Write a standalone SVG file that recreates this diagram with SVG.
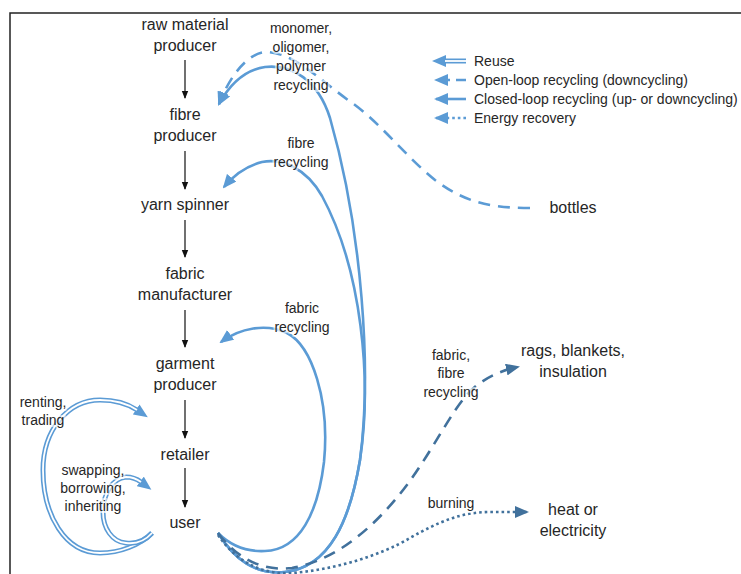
<svg xmlns="http://www.w3.org/2000/svg" width="741" height="574" viewBox="0 0 741 574">
<defs>
<style>
.t{font-family:"Liberation Sans",Arial,sans-serif;font-size:16px;fill:#262626;text-anchor:middle}
.s{font-family:"Liberation Sans",Arial,sans-serif;font-size:14px;fill:#262626;text-anchor:middle}
.h{paint-order:stroke;stroke:#fff;stroke-width:4;stroke-opacity:0.6}
.lg{font-family:"Liberation Sans",Arial,sans-serif;font-size:14px;fill:#262626}
.blk{stroke:#111;stroke-width:1.2;fill:none}
.cl{stroke:#5b9bd5;stroke-width:2.6;fill:none}
.ol{stroke:#5b9bd5;stroke-width:2.6;fill:none;stroke-dasharray:12 8}
.old{stroke:#41719c;stroke-width:2.6;fill:none;stroke-dasharray:12 8}
.en{stroke:#41719c;stroke-width:2.6;fill:none;stroke-dasharray:2.6 3}
.ru{stroke:#5b9bd5;stroke-width:5;fill:none}
.rw{stroke:#fff;stroke-width:1.8;fill:none}
</style>
<marker id="ab" markerUnits="userSpaceOnUse" markerWidth="8" markerHeight="8" viewBox="0 0 8 8" refX="7" refY="4" orient="auto"><path d="M0,0.8 L8,4 L0,7.2 z" fill="#111"/></marker>
<marker id="al" markerUnits="userSpaceOnUse" markerWidth="14" markerHeight="12" viewBox="0 0 14 12" refX="12" refY="6" orient="auto"><path d="M0,0 L14,6 L0,12 z" fill="#5b9bd5"/></marker>
<marker id="ad" markerUnits="userSpaceOnUse" markerWidth="14" markerHeight="12" viewBox="0 0 14 12" refX="12" refY="6" orient="auto"><path d="M0,0 L14,6 L0,12 z" fill="#41719c"/></marker>
<marker id="ar" markerUnits="userSpaceOnUse" markerWidth="14" markerHeight="12" viewBox="0 0 14 12" refX="1" refY="6" orient="auto"><path d="M0,0 L14,6 L0,12 z" fill="#5b9bd5"/></marker>
</defs>
<rect width="741" height="574" fill="#fff"/>
<path d="M10,574 L10,13 L741,13" stroke="#222" stroke-width="1.5" fill="none"/>

<g id="connectors">
<line class="blk" x1="185" y1="60" x2="185" y2="98" marker-end="url(#ab)"/>
<line class="blk" x1="185" y1="151" x2="185" y2="189" marker-end="url(#ab)"/>
<line class="blk" x1="185" y1="220" x2="185" y2="257" marker-end="url(#ab)"/>
<line class="blk" x1="185" y1="310" x2="185" y2="347" marker-end="url(#ab)"/>
<line class="blk" x1="185" y1="400" x2="185" y2="438" marker-end="url(#ab)"/>
<line class="blk" x1="185" y1="468" x2="185" y2="507" marker-end="url(#ab)"/>

<path class="ol" d="M530,208 C485,208 462,200 435,180 C405,156 378,120 348,100 C318,78 292,52 266,52 C246,53 228,80 219,104" marker-end="url(#al)"/>
<path class="cl" d="M218,533 C235,560 255,575 285,572 C330,567 350,520 360,460 C372,370 362,230 330,118 C318,80 292,64 265,67 C245,70 230,84 219,104" marker-end="url(#al)"/>
<path class="cl" d="M218,533 C235,560 255,575 285,572 C330,567 350,520 360,460 C372,380 362,270 322,196 C306,168 282,158 262,162 C246,166 233,176 224,187" marker-end="url(#al)"/>
<path class="cl" d="M218,533 C230,545 245,552 265,551 C300,550 318,512 324,462 C330,400 312,346 287,333 C266,323 240,328 221,342" marker-end="url(#al)"/>
<path class="old" d="M218,533 C235,556 260,572 292,568 C340,560 382,520 412,478 C440,438 456,402 476,386 C490,375 504,370 518,367" marker-end="url(#ad)"/>
<path class="en" d="M218,535 C235,560 260,575 292,573 C332,570 380,556 410,538 C440,521 462,512 490,512 L527,512" marker-end="url(#ad)"/>

<path class="ru" d="M152,533 C140,545 120,553 100,553 C65,553 43,515 43,470 C43,430 68,400 100,400 C115,400 128,404 137,410" marker-end="url(#ar)"/>
<path class="rw" d="M152,533 C140,545 120,553 100,553 C65,553 43,515 43,470 C43,430 68,400 100,400 C115,400 128,404 137,410"/>
<path class="ru" d="M152,533 C145,541 135,544 126,543 C112,542 103,528 103,512 C103,495 112,478 126,477 C133,477 137,479 141,482" marker-end="url(#ar)"/>
<path class="rw" d="M152,533 C145,541 135,544 126,543 C112,542 103,528 103,512 C103,495 112,478 126,477 C133,477 137,479 141,482"/>
</g>

<g id="legend">
<path class="ru" d="M466,61 L445,61" marker-end="url(#ar)"/>
<path class="rw" d="M466,61 L445,61"/>
<path class="ol" d="M466,80 L436,80" style="stroke-dasharray:10 6" marker-end="url(#al)"/>
<path class="cl" d="M466,99 L436,99" marker-end="url(#al)"/>
<path class="cl" d="M466,118 L436,118" style="stroke-dasharray:2.6 3" marker-end="url(#al)"/>
<text class="lg" x="474" y="66">Reuse</text>
<text class="lg" x="474" y="85">Open-loop recycling (downcycling)</text>
<text class="lg" x="474" y="104">Closed-loop recycling (up- or downcycling)</text>
<text class="lg" x="474" y="123">Energy recovery</text>
</g>

<g id="raw-material-producer"><text class="t" x="185" y="30">raw material</text><text class="t" x="185" y="51">producer</text></g>
<g id="fibre-producer"><text class="t" x="185" y="120">fibre</text><text class="t" x="185" y="141">producer</text></g>
<g id="yarn-spinner"><text class="t" x="185" y="210">yarn spinner</text></g>
<g id="fabric-manufacturer"><text class="t" x="185" y="279">fabric</text><text class="t" x="185" y="300">manufacturer</text></g>
<g id="garment-producer"><text class="t" x="185" y="369">garment</text><text class="t" x="185" y="390">producer</text></g>
<g id="retailer"><text class="t" x="185" y="460">retailer</text></g>
<g id="user"><text class="t" x="185" y="528">user</text></g>
<g id="bottles"><text class="t" x="573" y="213">bottles</text></g>
<g id="rags"><text class="t" x="573" y="356">rags, blankets,</text><text class="t" x="573" y="377">insulation</text></g>
<g id="heat"><text class="t" x="573" y="515">heat or</text><text class="t" x="573" y="536">electricity</text></g>

<g id="labels">
<text class="s h" x="301" y="33">monomer,</text>
<text class="s h" x="301" y="52">oligomer,</text>
<text class="s h" x="301" y="71">polymer</text>
<text class="s h" x="301" y="90">recycling</text>
<text class="s h" x="301" y="148">fibre</text>
<text class="s h" x="301" y="167">recycling</text>
<text class="s h" x="302" y="313">fabric</text>
<text class="s h" x="302" y="332">recycling</text>
<text class="s h" x="451" y="360">fabric,</text>
<text class="s h" x="451" y="378">fibre</text>
<text class="s h" x="451" y="397">recycling</text>
<text class="s h" x="451" y="508">burning</text>
<text class="s h" x="43" y="407">renting,</text>
<text class="s h" x="43" y="425">trading</text>
<text class="s h" x="93" y="475">swapping,</text>
<text class="s h" x="93" y="493">borrowing,</text>
<text class="s h" x="93" y="511">inheriting</text>
</g>
</svg>
